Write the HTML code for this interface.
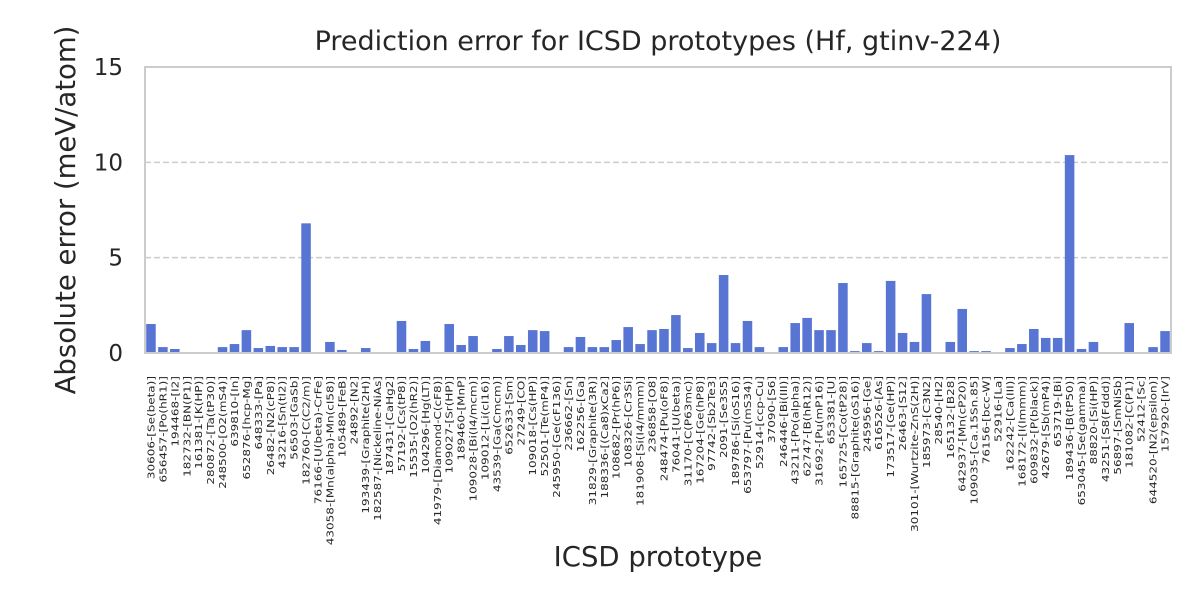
<!DOCTYPE html>
<html><head><meta charset="utf-8"><style>
body{margin:0;background:#fff;}
svg{display:block;font-family:"DejaVu Sans","Liberation Sans",sans-serif;}
</style></head><body>
<svg id="chart" width="1200" height="600">
<text x="658" y="50" text-anchor="middle" font-size="27" fill="#262626">Prediction error for ICSD prototypes (Hf, gtinv-224)</text>
<text transform="translate(75,210) rotate(-90)" text-anchor="middle" font-size="27.5" fill="#262626">Absolute error (meV/atom)</text>
<text x="658" y="566" text-anchor="middle" font-size="27.5" fill="#262626">ICSD prototype</text>
<g id="grid"></g><g id="bars"></g><g id="yticks"></g><g id="xticks"></g>
<rect x="145" y="67" width="1026" height="286" fill="none" stroke="#cccccc" stroke-width="2"/>
</svg>
<script>
const categories = ["30606-[Se(beta)]","656457-[Po(hR1)]","194468-[I2]","182732-[BN(P1)]","161381-[K(HP)]","280872-[Ta(tP30)]","248500-[O2(mS4)]","639810-[In]","652876-[hcp-Mg]","648333-[Pa]","26482-[N2(cP8)]","43216-[Sn(tI2)]","56503-[GaSb]","182760-[C(C2/m)]","76166-[U(beta)-CrFe]","43058-[Mn(alpha)-Mn(cI58)]","105489-[FeB]","24892-[N2]","193439-[Graphite(2H)]","182587-[Nickeline-NiAs]","187431-[CaHg2]","57192-[Cs(tP8)]","15535-[O2(hR2)]","104296-[Hg(LT)]","41979-[Diamond-C(cF8)]","109027-[Sr(HP)]","189460-[MnP]","109028-[Bi(I4/mcm)]","109012-[Li(cI16)]","43539-[Ga(Cmcm)]","652633-[Sm]","27249-[CO]","109018-[Cs(HP)]","52501-[Te(mP4)]","245950-[Ge(cF136)]","236662-[Sn]","162256-[Ga]","31829-[Graphite(3R)]","188336-[(Ca8)xCa2]","108682-[Pr(hP6)]","108326-[Cr3Si]","181908-[Si(I4/mmm)]","236858-[O8]","248474-[Pu(oF8)]","76041-[U(beta)]","31170-[C(P63mc)]","167204-[Ge(hP8)]","97742-[Sb2Te3]","2091-[Se3S5]","189786-[Si(oS16)]","653797-[Pu(mS34)]","52914-[ccp-Cu]","37090-[S6]","246446-[Bi(III)]","43211-[Po(alpha)]","62747-[B(hR12)]","31692-[Pu(mP16)]","653381-[U]","165725-[Co(tP28)]","88815-[Graphite(oS16)]","245956-[Ge]","616526-[As]","173517-[Ge(HP)]","26463-[S12]","30101-[Wurtzite-ZnS(2H)]","185973-[C3N2]","28540-[H2]","165132-[B28]","642937-[Mn(cP20)]","109035-[Ca.15Sn.85]","76156-[bcc-W]","52916-[La]","162242-[Ca(III)]","168172-[I(Immm)]","609832-[P(black)]","42679-[Sb(mP4)]","653719-[Bi]","189436-[B(tP50)]","653045-[Se(gamma)]","88820-[Si(HP)]","43251-[S8(Fddd)]","56897-[SmNiSb]","181082-[C(P1)]","52412-[Sc]","644520-[N2(epsilon)]","157920-[IrV]"];
const errors = [1.52,0.31,0.21,0,0,0,0.31,0.47,1.2,0.26,0.37,0.31,0.31,6.8,0.05,0.58,0.16,0.05,0.26,0,0,1.68,0.21,0.63,0,1.52,0.42,0.89,0,0.21,0.89,0.42,1.2,1.15,0.05,0.31,0.84,0.31,0.31,0.68,1.36,0.47,1.2,1.26,1.99,0.26,1.05,0.52,4.09,0.52,1.68,0.31,0,0.31,1.57,1.84,1.2,1.2,3.67,0.1,0.52,0.1,3.78,1.05,0.58,3.09,0.05,0.58,2.31,0.1,0.1,0,0.26,0.47,1.26,0.79,0.79,10.38,0.21,0.58,0,0,1.57,0,0.31,1.15];
const yTicks = [0,5,10,15];
const NS="http://www.w3.org/2000/svg";
const L=145,R=1171,T=67,B=353,YMAX=15;
const y=v=>B-(v/YMAX)*(B-T);
const step=(R-L)/categories.length;
const x=i=>L+(i+0.5)*step;
const gGrid=document.getElementById('grid'),gBars=document.getElementById('bars'),gY=document.getElementById('yticks'),gX=document.getElementById('xticks');
yTicks.forEach(t=>{
  if(t>0&&t<YMAX){const ln=document.createElementNS(NS,'line');
  ln.setAttribute('x1',L);ln.setAttribute('x2',R);ln.setAttribute('y1',y(t));ln.setAttribute('y2',y(t));
  ln.setAttribute('stroke','#cccccc');ln.setAttribute('stroke-width','1.5');ln.setAttribute('stroke-dasharray','6,3');
  
  
  gGrid.appendChild(ln);}
  const tx=document.createElementNS(NS,'text');
  tx.setAttribute('x',L-22);tx.setAttribute('y',y(t)+8);tx.setAttribute('text-anchor','end');
  tx.setAttribute('font-size','23');tx.setAttribute('fill','#262626');tx.textContent=t;
  
  
  gY.appendChild(tx);
});
const bw=step*0.8;
errors.forEach((v,i)=>{
  const r=document.createElementNS(NS,'rect');
  r.setAttribute('x',x(i)-bw/2);r.setAttribute('width',bw);r.setAttribute('y',y(v));r.setAttribute('height',B-y(v));
  r.setAttribute('fill','#5875d3');
  
  
  gBars.appendChild(r);
});
categories.forEach((c,i)=>{
  const tx=document.createElementNS(NS,'text');
  tx.setAttribute('transform','translate('+(x(i)+3.5)+',376) rotate(-90) scale(1.2,1)');
  tx.setAttribute('text-anchor','end');tx.setAttribute('font-size','10');tx.setAttribute('fill','#262626');
  tx.textContent=c;
  
  
  gX.appendChild(tx);
});
</script>
</body></html>
